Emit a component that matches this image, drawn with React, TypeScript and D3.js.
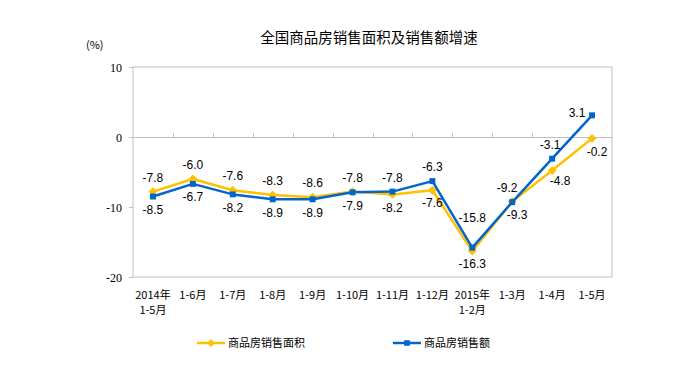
import { useEffect, useRef } from 'react';
import * as d3 from 'd3';

const CATEGORIES = [
  ['2014年', '1-5月'], ['1-6月'], ['1-7月'], ['1-8月'], ['1-9月'], ['1-10月'],
  ['1-11月'], ['1-12月'], ['2015年', '1-2月'], ['1-3月'], ['1-4月'], ['1-5月']
];
const AREA = [-7.8, -6.0, -7.6, -8.3, -8.6, -7.8, -8.2, -7.6, -16.3, -9.2, -4.8, -0.2];
const SALES = [-8.5, -6.7, -8.2, -8.9, -8.9, -7.9, -7.8, -6.3, -15.8, -9.3, -3.1, 3.1];
const Y_TICKS = [10, 0, -10, -20];
const SERIES_NAMES = ['商品房销售面积', '商品房销售额'];

const YELLOW = '#FFC000';
const BLUE = '#0066CC';
const AXIS = '#BFBFBF';
const CJK = '"Noto Sans CJK SC", sans-serif';

// small hand nudges for crowded labels [dx, dy], keyed by index
const NUDGE_AREA: Record<number, [number, number]> = { 9: [-5, 0], 10: [8, -3], 11: [5, 0] };
const NUDGE_SALES: Record<number, [number, number]> = { 8: [0, -16], 9: [5, 0], 10: [-2, 0], 11: [-15, 11] };

export default function App() {
  const svgRef = useRef<SVGSVGElement>(null);

  useEffect(() => {
    if (!svgRef.current) return;
    const svg = d3.select(svgRef.current);
    svg.selectAll('*').remove();

    const left = 133, right = 612, top = 67, bottom = 277;

    const x = d3.scaleBand<number>()
      .domain(d3.range(CATEGORIES.length))
      .range([left, right]);
    const y = d3.scaleLinear().domain([-20, 10]).range([bottom, top]);
    const cx = (i: number) => (x(i) ?? 0) + x.bandwidth() / 2;

    // title
    svg.append('text')
      .attr('x', 369).attr('y', 43)
      .attr('text-anchor', 'middle')
      .style('font-family', CJK).style('font-size', '14.5px')
      .text('全国商品房销售面积及销售额增速');

    svg.append('text')
      .attr('x', 86).attr('y', 49)
      .style('font-family', CJK).style('font-size', '11px')
      .text('(%)');

    // frame
    svg.append('rect')
      .attr('x', left).attr('y', top)
      .attr('width', right - left).attr('height', bottom - top)
      .attr('fill', 'none').attr('stroke', AXIS).attr('stroke-width', 1);

    // y ticks
    const yt = svg.append('g');
    Y_TICKS.forEach(t => {
      const yy = Math.round(y(t)) + 0.5;
      yt.append('line').attr('x1', left - 4).attr('x2', left).attr('y1', yy).attr('y2', yy)
        .attr('stroke', AXIS);
      yt.append('text')
        .attr('x', 122).attr('y', yy).attr('dy', '0.35em')
        .attr('text-anchor', 'end')
        .style('font-family', '"Liberation Serif", serif').style('font-size', '12px')
        .text(t);
    });

    // zero line with category ticks
    const zy = Math.round(y(0)) + 0.5;
    svg.append('line').attr('x1', left).attr('x2', right).attr('y1', zy).attr('y2', zy)
      .attr('stroke', AXIS);
    d3.range(1, CATEGORIES.length).forEach(i => {
      const xx = Math.round(x(i) ?? 0) + 0.5;
      svg.append('line').attr('x1', xx).attr('x2', xx).attr('y1', zy - 4).attr('y2', zy)
        .attr('stroke', AXIS);
    });

    // category labels
    CATEGORIES.forEach((lines, i) => {
      const t = svg.append('text')
        .attr('x', cx(i)).attr('y', 299)
        .attr('text-anchor', 'middle')
        .style('font-family', CJK).style('font-size', '11px');
      lines.forEach((s, k) => {
        t.append('tspan').attr('x', cx(i)).attr('dy', k === 0 ? 0 : 15).text(s);
      });
    });

    const line = d3.line<number>().x((_, i) => cx(i)).y(d => y(d));

    const drawSeries = (vals: number[], color: string, marker: 'diamond' | 'square') => {
      svg.append('path')
        .attr('d', line(vals))
        .attr('fill', 'none').attr('stroke', color).attr('stroke-width', 2.5)
        .attr('stroke-linejoin', 'round');
      const sym = d3.symbol().type(marker === 'diamond' ? d3.symbolDiamond2 : d3.symbolSquare2)
        .size(marker === 'diamond' ? 50 : 45);
      svg.append('g').selectAll('path').data(vals).enter().append('path')
        .attr('d', sym())
        .attr('transform', (d, i) => `translate(${cx(i)},${y(d)})`)
        .attr('fill', color);
    };

    drawSeries(AREA, YELLOW, 'diamond');
    drawSeries(SALES, BLUE, 'square');

    // data labels
    const labels = (vals: number[], other: number[], nudge: Record<number, [number, number]>) => {
      vals.forEach((v, i) => {
        const above = v > other[i];
        const [dx, dy] = nudge[i] ?? [0, 0];
        svg.append('text')
          .attr('x', cx(i) + dx)
          .attr('y', y(v) + (above ? -14 : 13) + dy)
          .attr('dy', '0.35em')
          .attr('text-anchor', 'middle')
          .style('font-family', '"Liberation Sans", Arial, sans-serif').style('font-size', '12px')
          .text(v.toFixed(1));
      });
    };
    labels(AREA, SALES, NUDGE_AREA);
    labels(SALES, AREA, NUDGE_SALES);

    // legend
    const legend = [
      { name: SERIES_NAMES[0], color: YELLOW, type: d3.symbolDiamond2, x: 197 },
      { name: SERIES_NAMES[1], color: BLUE, type: d3.symbolSquare2, x: 393 }
    ];
    legend.forEach(l => {
      const ly = 343;
      svg.append('line').attr('x1', l.x).attr('x2', l.x + 28).attr('y1', ly).attr('y2', ly)
        .attr('stroke', l.color).attr('stroke-width', 2.5);
      svg.append('path').attr('d', d3.symbol().type(l.type).size(40)())
        .attr('transform', `translate(${l.x + 14},${ly})`).attr('fill', l.color);
      svg.append('text')
        .attr('x', l.x + 31).attr('y', ly).attr('dy', '0.35em')
        .style('font-family', CJK).style('font-size', '11px')
        .text(l.name);
    });
  }, []);

  return <svg ref={svgRef} width={692} height={365} style={{ position: 'absolute', left: 0, top: 0, background: '#fff' }} />;
}
